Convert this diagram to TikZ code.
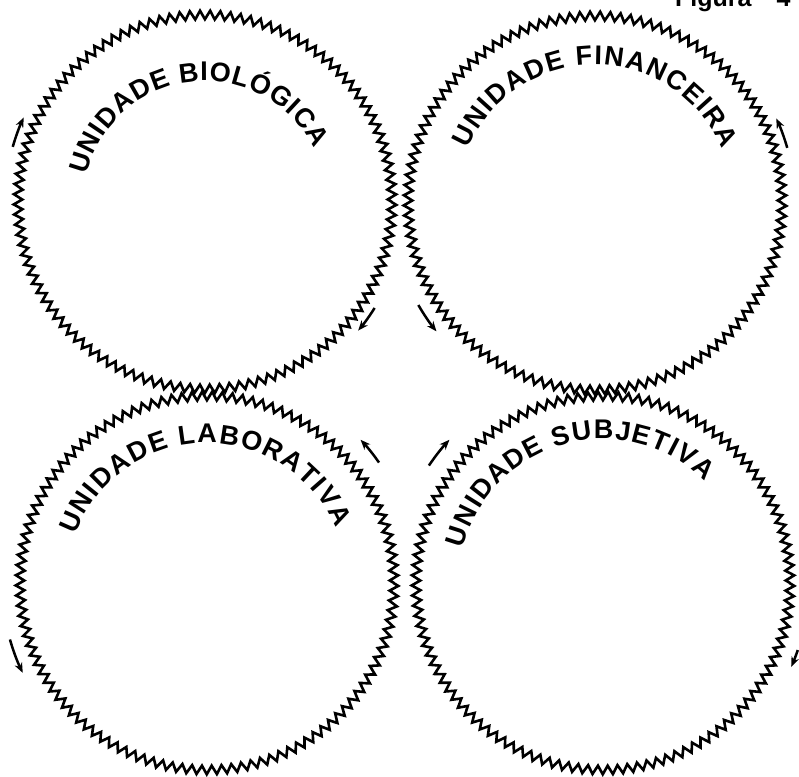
\documentclass[tikz,border=0pt]{standalone}
\usepackage{fontspec}
\setmainfont{Liberation Sans}
\usetikzlibrary{decorations.pathmorphing,decorations.text,arrows.meta}
\newcommand{\ringfont}{\fontsize{27}{27}\selectfont}
\begin{document}
\begin{tikzpicture}[x=1pt,y=1pt,
  ring/.style={line width=2.6pt, decorate, decoration={zigzag, segment length=10.04pt, amplitude=4.3pt}},
  ringtext/.style={decorate, decoration={text along path, text align={fit to path}, text={#1}}},
  turn/.style={line width=2.5pt, -{Stealth[length=10pt,width=8pt]}},
]
\useasboundingbox (0,0) rectangle (799,776);
\fill[white] (0,0) rectangle (799,776);
\coordinate (tl) at (205,574);
\coordinate (tr) at (595,573);
\coordinate (bl) at (207,193);
\coordinate (br) at (603,193);
% rings
\draw[ring] (tl) circle[radius=187];
\draw[ring] (tr) circle[radius=187];
\draw[ring] (bl) circle[radius=187];
\draw[ring] (br) circle[radius=187];
% texts along arcs
\path[ringtext={|\ringfont\bfseries|UNIDADE BIOLÓGICA}] ([shift={(167:121)}]tl) arc[start angle=167, end angle=26, radius=121];
\path[ringtext={|\ringfont\bfseries|UNIDADE FINANCEIRA}] ([shift={(157:138)}]tr) arc[start angle=157, end angle=23, radius=138];
\path[ringtext={|\ringfont\bfseries|UNIDADE LABORATIVA}] ([shift={(160:140)}]bl) arc[start angle=160, end angle=23, radius=140];
\path[ringtext={|\ringfont\bfseries|UNIDADE SUBJETIVA}] ([shift={(166:144)}]br) arc[start angle=166, end angle=45, radius=144];
% rotation arrows
\draw[turn] ([shift={(164:200)}]tl) arc[start angle=164, end angle=155, radius=200];
\draw[turn] ([shift={(-32:200)}]tl) arc[start angle=-32, end angle=-40, radius=200];
\draw[turn] ([shift={(210:204)}]tr) arc[start angle=210, end angle=219, radius=204];
\draw[turn] ([shift={(16:200)}]tr) arc[start angle=16, end angle=25, radius=200];
\draw[turn] ([shift={(35:210)}]bl) arc[start angle=35, end angle=43, radius=210];
\draw[turn] ([shift={(196:205)}]bl) arc[start angle=196, end angle=206, radius=205];
\draw[turn] ([shift={(146:210)}]br) arc[start angle=146, end angle=137, radius=210];
\draw[turn] ([shift={(-19:206)}]br) arc[start angle=-19, end angle=-24, radius=206];
% caption
\node[anchor=base west, inner sep=0pt, font=\bfseries\fontsize{25}{25}\selectfont] (cap) at (675,769) {Figura\quad 4};
\end{tikzpicture}
\end{document}
